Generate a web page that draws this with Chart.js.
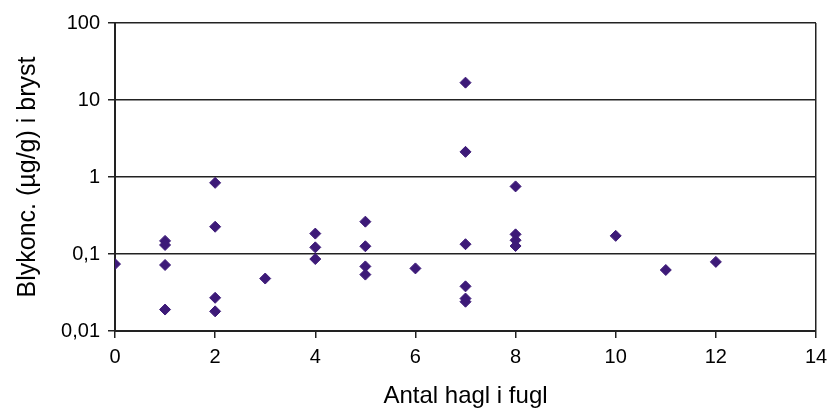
<!DOCTYPE html>
<html>
<head>
<meta charset="utf-8">
<script src="https://cdn.jsdelivr.net/npm/chart.js@4/dist/chart.umd.min.js"></script>
<style>
  html, body { margin: 0; padding: 0; background: #fff; }
  #chart { display: block; }
</style>
</head>
<body>
<canvas id="chart" width="828" height="414"></canvas>
<script>
// number of shot pellets in the bird
var hagl = [0, 1, 1, 1, 1, 2, 2, 2, 2, 3, 4, 4, 4, 5, 5, 5, 5, 6,
            7, 7, 7, 7, 7, 7, 8, 8, 8, 8, 10, 11, 12];
// lead concentration (µg/g) in breast
var blyKonc = [0.074, 0.148, 0.131, 0.072, 0.019, 0.84, 0.226, 0.027, 0.018, 0.048,
               0.184, 0.122, 0.086, 0.263, 0.126, 0.069, 0.054, 0.065,
               16.8, 2.12, 0.134, 0.038, 0.0264, 0.024, 0.755, 0.18, 0.151, 0.127,
               0.172, 0.062, 0.079];
var yTicks = [0.01, 0.1, 1, 10, 100];
var yTickLabels = ['0,01', '0,1', '1', '10', '100'];

var points = [];
for (var i = 0; i < hagl.length; i++) {
  points.push({ x: hagl[i], y: blyKonc[i] });
}

var fontFam = '"Liberation Sans", Arial, sans-serif';

new Chart(document.getElementById('chart'), {
  type: 'scatter',
  data: {
    datasets: [{
      label: 'Bly',
      data: points,
      pointStyle: 'rectRot',
      pointRadius: 5.5,
      pointHoverRadius: 5.5,
      backgroundColor: '#3d1a78',
      borderColor: '#3d1a78',
      borderWidth: 1
    }]
  },
  options: {
    responsive: false,
    animation: false,
    layout: { padding: { top: 23, right: 0, left: 0, bottom: 0 } },
    plugins: {
      legend: { display: false },
      tooltip: { enabled: false }
    },
    scales: {
      x: {
        type: 'linear',
        min: 0,
        max: 14,
        ticks: { stepSize: 2, color: '#000', padding: 7, font: { family: fontFam, size: 20 } },
        grid: {
          color: function (ctx) { return ctx.tick && ctx.tick.value === 14 ? '#222' : 'rgba(0,0,0,0)'; },
          tickColor: '#222',
          tickLength: 7,
          lineWidth: 1.5
        },
        border: { color: '#222', width: 2 },
        title: {
          display: true,
          text: 'Antal hagl i fugl',
          color: '#000',
          font: { family: fontFam, size: 24 },
          padding: { top: 0, bottom: 3 }
        },
        afterFit: function (scale) {
          scale.height = 83;
          scale.paddingRight = 12;
        }
      },
      y: {
        type: 'logarithmic',
        min: 0.01,
        max: 100,
        afterBuildTicks: function (scale) {
          scale.ticks = yTicks.map(function (v) { return { value: v, major: true }; });
        },
        ticks: {
          color: '#000',
          padding: 8,
          font: { family: fontFam, size: 20 },
          callback: function (value) {
            var idx = yTicks.indexOf(value);
            return idx >= 0 ? yTickLabels[idx] : '';
          }
        },
        grid: { color: '#222', tickColor: '#222', tickLength: 7, lineWidth: 1.5 },
        border: { color: '#222', width: 2 },
        title: {
          display: true,
          text: 'Blykonc. (µg/g) i bryst',
          color: '#000',
          font: { family: fontFam, size: 25 },
          padding: { top: 13, bottom: 0 }
        },
        afterFit: function (scale) { scale.width = 115; }
      }
    }
  }
});
</script>
</body>
</html>
